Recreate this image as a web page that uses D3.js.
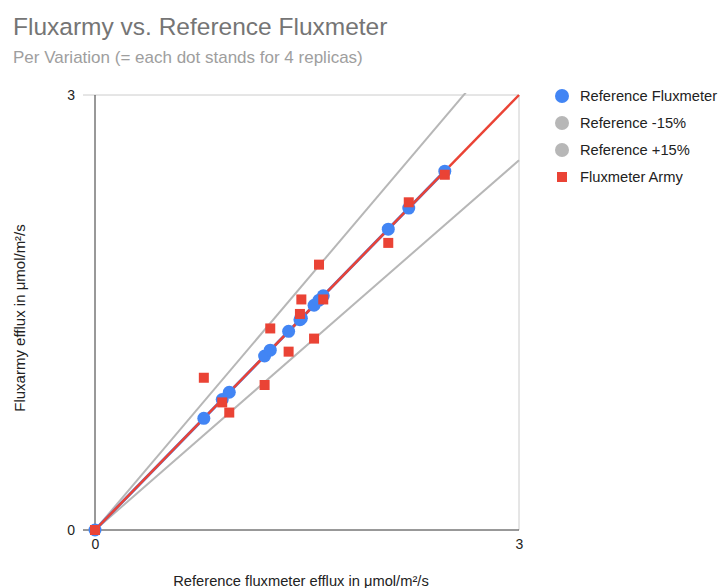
<!DOCTYPE html>
<html>
<head>
<meta charset="utf-8">
<script src="https://cdn.jsdelivr.net/npm/d3@7"></script>
<style>
  body { margin: 0; background: #fff; }
  svg { font-family: "Liberation Sans", Arial, sans-serif; }
</style>
</head>
<body>
<script>
// Reference fluxmeter values (x) and the matching readings
const referenceX = [0, 0.77, 0.90, 0.95, 1.20, 1.24, 1.37, 1.45, 1.46, 1.55, 1.585, 1.615, 2.075, 2.22, 2.475];
const referenceY = [0, 0.77, 0.90, 0.95, 1.20, 1.24, 1.37, 1.45, 1.46, 1.55, 1.585, 1.615, 2.075, 2.22, 2.475];
const armyY = [0, 1.05, 0.88, 0.81, 1.00, 1.39, 1.23, 1.49, 1.59, 1.32, 1.83, 1.59, 1.98, 2.26, 2.45];

// band lines and trend line (end points)
const lineX = [0, 3];
const minus15Y = [0, 2.55];
const plus15Y = [0, 3.45];
const trendY = [0, 3];

const xTicks = [0, 3];
const yTicks = [0, 3];

const legendLabels = ["Reference Fluxmeter", "Reference -15%", "Reference +15%", "Fluxmeter Army"];
const colors = { blue: "#4285f4", gray: "#b7b7b7", red: "#ea4335" };

const W = 720, H = 588;
const plot = { left: 95, right: 519, top: 95, bottom: 530 };

const svg = d3.select("body").append("svg").attr("width", W).attr("height", H);

// title + subtitle
svg.append("text").attr("x", 13).attr("y", 35)
  .attr("font-size", 24.5).attr("fill", "#757575").text("Fluxarmy vs. Reference Fluxmeter");
svg.append("text").attr("x", 13).attr("y", 63)
  .attr("font-size", 17).attr("fill", "#9e9e9e").text("Per Variation (= each dot stands for 4 replicas)");

const x = d3.scaleLinear().domain([0, 3]).range([plot.left, plot.right]);
const y = d3.scaleLinear().domain([0, 3]).range([plot.bottom, plot.top]);

// grid lines
svg.append("g").selectAll("line").data(yTicks.filter(d => d !== 0)).join("line")
  .attr("x1", plot.left - 12).attr("x2", plot.right)
  .attr("y1", d => y(d)).attr("y2", d => y(d))
  .attr("stroke", "#cccccc");
svg.append("g").selectAll("line").data(xTicks.filter(d => d !== 0)).join("line")
  .attr("x1", d => x(d)).attr("x2", d => x(d))
  .attr("y1", plot.top).attr("y2", plot.bottom)
  .attr("stroke", "#cccccc");

// axis baselines
svg.append("line").attr("x1", plot.left - 12).attr("x2", plot.right)
  .attr("y1", y(0)).attr("y2", y(0)).attr("stroke", "#333");
svg.append("line").attr("x1", x(0)).attr("x2", x(0))
  .attr("y1", plot.top).attr("y2", plot.bottom).attr("stroke", "#333");

// tick labels
const yAxis = svg.append("g").attr("transform", "translate(" + plot.left + ",0)")
  .call(d3.axisLeft(y).tickValues(yTicks).tickSize(0).tickPadding(20).tickFormat(d3.format("d")));
const xAxis = svg.append("g").attr("transform", "translate(0," + plot.bottom + ")")
  .call(d3.axisBottom(x).tickValues(xTicks).tickSize(0).tickPadding(9).tickFormat(d3.format("d")));
[xAxis, yAxis].forEach(a => {
  a.select(".domain").remove();
  a.selectAll("text").attr("font-size", 14).attr("fill", "#222")
    .attr("font-family", "'Liberation Sans', Arial, sans-serif");
});

// axis titles
svg.append("text").attr("x", 301).attr("y", 586)
  .attr("text-anchor", "middle").attr("font-size", 14.7).attr("fill", "#222")
  .text("Reference fluxmeter efflux in μmol/m²/s");
svg.append("text").attr("transform", "translate(25,318) rotate(-90)")
  .attr("text-anchor", "middle").attr("font-size", 15).attr("fill", "#222")
  .text("Fluxarmy efflux in μmol/m²/s");

// clip
svg.append("clipPath").attr("id", "clip").append("rect")
  .attr("x", plot.left).attr("y", plot.top - 2)
  .attr("width", plot.right - plot.left + 2).attr("height", plot.bottom - plot.top + 2);

const g = svg.append("g").attr("clip-path", "url(#clip)");
const line = d3.line().x(d => x(d[0])).y(d => y(d[1]));

// -15% / +15% lines
g.append("path").datum(lineX.map((d, i) => [d, minus15Y[i]])).attr("d", line)
  .attr("fill", "none").attr("stroke", colors.gray).attr("stroke-width", 2);
g.append("path").datum(lineX.map((d, i) => [d, plus15Y[i]])).attr("d", line)
  .attr("fill", "none").attr("stroke", colors.gray).attr("stroke-width", 2);

// reference line
const refPts = referenceX.map((d, i) => [d, referenceY[i]]);
g.append("path").datum(refPts).attr("d", line)
  .attr("fill", "none").attr("stroke", colors.blue).attr("stroke-width", 3);

// trend line
g.append("path").datum(lineX.map((d, i) => [d, trendY[i]])).attr("d", line)
  .attr("fill", "none").attr("stroke", colors.red).attr("stroke-width", 2.5);

// reference points
svg.append("g").selectAll("circle").data(refPts).join("circle")
  .attr("cx", d => x(d[0])).attr("cy", d => y(d[1])).attr("r", 6.5)
  .attr("fill", colors.blue);

// fluxmeter army squares
const s = 10;
svg.append("g").selectAll("rect").data(referenceX.map((d, i) => [d, armyY[i]])).join("rect")
  .attr("x", d => x(d[0]) - s / 2).attr("y", d => y(d[1]) - s / 2)
  .attr("width", s).attr("height", s).attr("fill", colors.red);

// legend
const legend = svg.append("g").attr("transform", "translate(562,96)");
const legendColors = [colors.blue, colors.gray, colors.gray, colors.red];
legendLabels.forEach((label, i) => {
  const row = legend.append("g").attr("transform", "translate(0," + (i * 27) + ")");
  if (i < 3) {
    row.append("circle").attr("r", 7).attr("fill", legendColors[i]);
  } else {
    row.append("rect").attr("x", -5).attr("y", -5).attr("width", 10).attr("height", 10)
      .attr("fill", legendColors[i]);
  }
  row.append("text").attr("x", 18).attr("y", 5).attr("font-size", 14.7).attr("fill", "#222").text(label);
});
</script>
</body>
</html>
